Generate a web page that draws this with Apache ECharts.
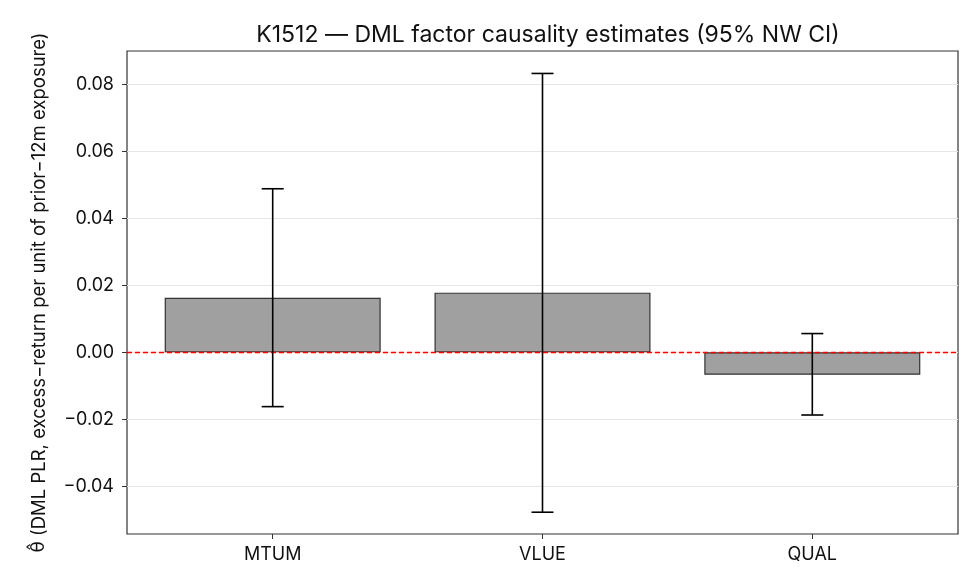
<!DOCTYPE html>
<html>
<head>
<meta charset="utf-8">
<script src="https://cdn.jsdelivr.net/npm/echarts@6/dist/echarts.min.js"></script>
<style>
  html, body { margin: 0; padding: 0; background: #fff; }
  #chart { width: 980px; height: 588px; }
</style>
</head>
<body>
<div id="chart"></div>
<script>
  // factors and DML estimates with 95% Newey-West CI
  var categories = ['MTUM', 'VLUE', 'QUAL'];
  var estimates = [0.0163, 0.0178, -0.0067];
  var ciLow = [-0.0162, -0.0477, -0.0187];
  var ciHigh = [0.0488, 0.0832, 0.0056];
  var yTicks = [-0.04, -0.02, 0.00, 0.02, 0.04, 0.06, 0.08];

  var font = 'Inter, Liberation Sans, sans-serif';
  var minus = function (s) { return String(s).replace('-', '\u2212'); };

  var barData = estimates.map(function (v, i) { return [i, v]; });
  var errData = estimates.map(function (v, i) { return [i, ciLow[i], ciHigh[i]]; });

  var chart = echarts.init(document.getElementById('chart'));
  chart.setOption({
    animation: false,
    backgroundColor: '#fff',
    textStyle: { fontFamily: font },
    title: {
      text: 'K1512 \u2014 DML factor causality estimates (95% NW CI)',
      left: 543, top: 19, textAlign: 'center',
      textStyle: { fontFamily: font, fontSize: 23, fontWeight: 'normal', color: '#111' }
    },
    grid: {
      left: 127, right: 22, top: 51, bottom: 54,
      show: true, borderColor: '#333', borderWidth: 1.2, backgroundColor: 'transparent'
    },
    xAxis: {
      type: 'value',
      min: -0.54, max: 2.54,
      axisLine: { show: false, onZero: false },
      splitLine: { show: false },
      axisTick: { show: true, length: 5, customValues: [0, 1, 2], lineStyle: { color: '#333' } },
      axisLabel: {
        customValues: [0, 1, 2],
        formatter: function (v) { return categories[Math.round(v)]; },
        color: '#111', fontSize: 18, margin: 12, fontFamily: font
      }
    },
    yAxis: {
      type: 'value',
      min: -0.0542, max: 0.0899,
      splitNumber: 7,
      name: '{t|\u03b8\u0302} (DML PLR, excess\u2212return per unit of prior\u221212m exposure)',
      nameLocation: 'middle',
      nameGap: 78,
      nameTextStyle: {
        fontSize: 18.5, color: '#111', fontFamily: font,
        rich: { t: { fontSize: 18.5, fontFamily: 'DejaVu Sans', color: '#111' } }
      },
      axisLine: { show: false, onZero: false },
      axisTick: { show: true, length: 5, customValues: yTicks, lineStyle: { color: '#333' } },
      axisLabel: {
        customValues: yTicks,
        formatter: function (v) { return minus(v.toFixed(2)); },
        color: '#111', fontSize: 18, margin: 13, fontFamily: font
      },
      splitLine: { show: true, lineStyle: { color: '#e6e6e6', width: 1 } }
    },
    series: [
      {
        type: 'bar',
        data: barData,
        barWidth: 216,
        itemStyle: { color: '#a0a0a0', borderColor: '#333', borderWidth: 1.2 },
        markLine: {
          symbol: 'none',
          silent: true,
          label: { show: false },
          lineStyle: { color: '#ff0000', type: [5, 3], width: 1.4 },
          data: [{ yAxis: 0 }]
        },
        z: 2
      },
      {
        type: 'custom',
        data: errData,
        z: 5,
        renderItem: function (params, api) {
          var x = api.value(0);
          var lo = api.coord([x, api.value(1)]);
          var hi = api.coord([x, api.value(2)]);
          var cap = 11;
          var style = { stroke: '#000', lineWidth: 1.6 };
          return {
            type: 'group',
            children: [
              { type: 'line', shape: { x1: lo[0], y1: lo[1], x2: hi[0], y2: hi[1] }, style: style },
              { type: 'line', shape: { x1: lo[0] - cap, y1: lo[1], x2: lo[0] + cap, y2: lo[1] }, style: style },
              { type: 'line', shape: { x1: hi[0] - cap, y1: hi[1], x2: hi[0] + cap, y2: hi[1] }, style: style }
            ]
          };
        }
      }
    ]
  });
</script>
</body>
</html>
